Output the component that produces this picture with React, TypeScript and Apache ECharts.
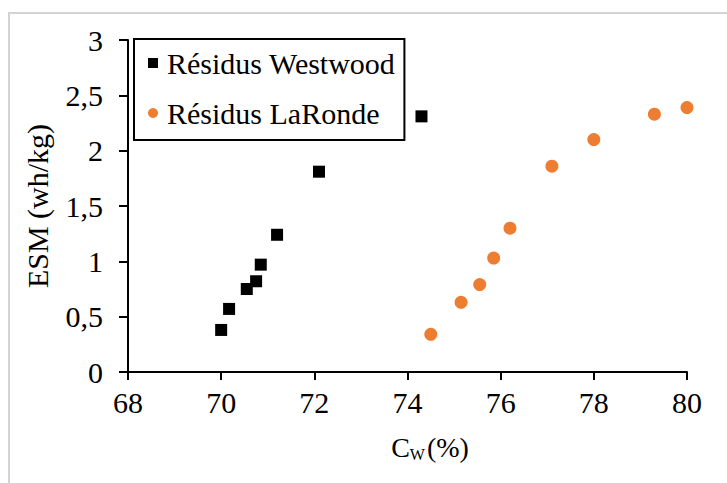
import React, { useEffect, useRef } from "react";
import * as echarts from "echarts";

const westwoodCw = [70.0, 70.17, 70.55, 70.75, 70.85, 71.2, 72.1, 74.3];
const westwoodEsm = [0.38, 0.57, 0.75, 0.82, 0.97, 1.24, 1.81, 2.31];
const larondeCw = [74.5, 75.15, 75.55, 75.85, 76.2, 77.1, 78.0, 79.3, 80.0];
const larondeEsm = [0.34, 0.63, 0.79, 1.03, 1.30, 1.86, 2.10, 2.33, 2.39];
const seriesNames = ["Résidus Westwood", "Résidus LaRonde"];
const yAxisTitle = "ESM (wh/kg)";

const FONT = "Liberation Serif";

export default function App() {
  const ref = useRef<HTMLDivElement>(null);
  useEffect(() => {
    if (!ref.current) return;
    const chart = echarts.init(ref.current, undefined, { renderer: "svg" });
    const pair = (xs: number[], ys: number[]) => xs.map((x, i) => [x, ys[i]]);
    chart.setOption({
      animation: false,
      backgroundColor: "#fff",
      textStyle: { fontFamily: FONT, color: "#000" },
      graphic: [
        {
          type: "rect",
          shape: { x: 9, y: 13, width: 740, height: 500 },
          style: { fill: "none", stroke: "#d4d4d4", lineWidth: 2 },
          z: 0,
        },
        {
          type: "text",
          x: 430,
          y: 447,
          style: {
            text: "{c|C}{s|W}{c|(%)}",
            align: "center",
            verticalAlign: "middle",
            fontFamily: FONT,
            rich: {
              c: { fontSize: 28, fontFamily: FONT, color: "#000", lineHeight: 30 },
              s: { fontSize: 16, fontFamily: FONT, color: "#000", verticalAlign: "bottom", lineHeight: 16, padding: [0, 2, 0, 0] },
            },
          },
        },
      ],
      grid: { left: 128, right: 40, top: 40, bottom: 111, containLabel: false },
      legend: {
        orient: "vertical",
        left: 134,
        top: 39,
        padding: [9, 9, 12, 14],
        itemGap: 20,
        itemWidth: 10,
        itemHeight: 10,
        borderColor: "#000",
        borderWidth: 2,
        backgroundColor: "#fff",
        textStyle: { fontSize: 30, fontFamily: FONT, color: "#000", padding: [0, 0, 0, 4] },
        data: [
          { name: seriesNames[0], icon: "rect" },
          { name: seriesNames[1], icon: "circle" },
        ],
      },
      xAxis: {
        type: "value",
        min: 68,
        max: 80,
        interval: 2,
        splitLine: { show: false },
        axisLine: { onZero: false, lineStyle: { color: "#000", width: 2 } },
        axisTick: { show: true, length: 8, lineStyle: { color: "#000", width: 2 } },
        axisLabel: { fontSize: 30, fontFamily: FONT, color: "#000", margin: 15 },
      },
      yAxis: {
        type: "value",
        min: 0,
        max: 3,
        interval: 0.5,
        name: yAxisTitle,
        nameLocation: "middle",
        nameGap: 76,
        nameTextStyle: { fontSize: 30, fontFamily: FONT, color: "#000" },
        splitLine: { show: false },
        axisLine: { show: true, lineStyle: { color: "#000", width: 2 } },
        axisTick: { show: true, length: 9, lineStyle: { color: "#000", width: 2 } },
        axisLabel: {
          fontSize: 30,
          fontFamily: FONT,
          color: "#000",
          margin: 25,
          formatter: (v: number) => String(v).replace(".", ","),
        },
      },
      series: [
        {
          name: seriesNames[0],
          type: "scatter",
          symbol: "rect",
          symbolSize: 12,
          itemStyle: { color: "#000", opacity: 1 },
          data: pair(westwoodCw, westwoodEsm),
        },
        {
          name: seriesNames[1],
          type: "scatter",
          symbol: "circle",
          symbolSize: 13,
          itemStyle: { color: "#ED7D31", opacity: 1 },
          data: pair(larondeCw, larondeEsm),
        },
      ],
    });
    return () => chart.dispose();
  }, []);
  return (
    <div
      ref={ref}
      style={{ position: "fixed", left: 0, top: 0, width: 727, height: 483 }}
    />
  );
}
